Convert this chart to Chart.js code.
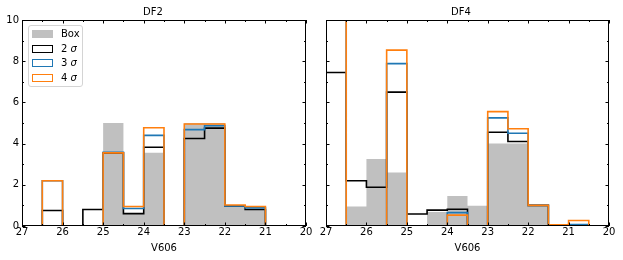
<!DOCTYPE html>
<html>
<head>
<meta charset="utf-8">
<title>DF2 / DF4 V606</title>
<script src="https://cdn.jsdelivr.net/npm/chart.js@4.4.1/dist/chart.umd.min.js"></script>
<style>
  body { margin: 0; background: #fff; font-family: "DejaVu Sans", sans-serif; }
  #wrap { position: relative; width: 623px; height: 260px; }
  #left { position: absolute; left: 0; top: 0; }
  #right { position: absolute; left: 313px; top: 0; }
  .legend {
    position: absolute; left: 28px; top: 25px; width: 55px; height: 62px;
    box-sizing: border-box; border: 1px solid #d4d4d4; border-radius: 3px;
    background: rgba(255,255,255,0.8);
  }
  .legend .sw { position: absolute; left: 3px; width: 21px; height: 8px; box-sizing: border-box; }
  .legend .lb { position: absolute; left: 32px; font-size: 10px; line-height: 12px; color: #000; }
</style>
</head>
<body>
<div id="wrap">
  <canvas id="left" width="313" height="260"></canvas>
  <canvas id="right" width="310" height="260"></canvas>
  <div class="legend">
    <div class="sw" style="top:3.5px;background:#c0c0c0"></div><div class="lb" style="top:1.5px">Box</div>
    <div class="sw" style="top:18.5px;border:1.5px solid #000"></div><div class="lb" style="top:16.5px">2 <i>σ</i></div>
    <div class="sw" style="top:33px;border:1.5px solid #1f77b4"></div><div class="lb" style="top:31px">3 <i>σ</i></div>
    <div class="sw" style="top:48px;border:1.5px solid #ff7f0e"></div><div class="lb" style="top:46px">4 <i>σ</i></div>
  </div>
</div>
<script>
// bin edges (V606 magnitudes, bright end on the right)
const edges = [27, 26.5, 26, 25.5, 25, 24.5, 24, 23.5, 23, 22.5, 22, 21.5, 21, 20.5, 20];
const xTicks = [27, 26, 25, 24, 23, 22, 21, 20];
const xMinor = [26.5, 25.5, 24.5, 23.5, 22.5, 21.5, 20.5];
const yTicks = [0, 2, 4, 6, 8, 10];
const yMinor = [1, 3, 5, 7, 9];

// DF2 counts per bin
const df2Box = [0, 0, 0, 0, 5.0, 0.6, 3.55, 0, 5.0, 5.0, 1.0, 0.8, 0, 0];
const df2S2  = [0, 0.75, 0, 0.8, 3.55, 0.6, 3.82, 0, 4.25, 4.75, 0.97, 0.8, 0, 0];
const df2S3  = [0, 2.2, 0, 0, 3.58, 0.85, 4.4, 0, 4.68, 4.87, 0.97, 0.88, 0, 0];
const df2S4  = [0, 2.2, 0, 0, 3.55, 0.95, 4.77, 0, 4.95, 4.95, 1.02, 0.95, 0, 0];

// DF4 counts per bin
const df4Box = [0, 0.95, 3.25, 2.6, 0, 0.68, 1.46, 0.98, 4.0, 4.0, 1.0, 0, 0, 0];
const df4S2  = [7.45, 2.2, 1.88, 6.5, 0.58, 0.77, 0.81, 0, 4.55, 4.1, 1.0, 0.05, 0.03, 0];
const df4S3  = [11, 0, 0, 7.88, 0, 0, 0.65, 0, 5.25, 4.5, 1.0, 0.05, 0.07, 0];
const df4S4  = [12, 0, 0, 8.54, 0, 0, 0.53, 0, 5.55, 4.72, 1.0, 0.06, 0.27, 0];

Chart.defaults.font.family = "'DejaVu Sans', sans-serif";
Chart.defaults.font.size = 10;
Chart.defaults.color = '#000';

// outline of a step histogram: start and end on the baseline
function stepPoints(values) {
    const pts = [{x: edges[0], y: 0}];
    values.forEach((v, i) => {
        pts.push({x: edges[i], y: v});
        pts.push({x: edges[i + 1], y: v});
    });
    pts.push({x: edges[edges.length - 1], y: 0});
    return pts;
}

// inward major/minor ticks on all four sides + frame
const frameTicks = {
    id: 'frameTicks',
    afterDraw(chart) {
        const {ctx, chartArea: a, scales: {x, y}} = chart;
        ctx.save();
        ctx.strokeStyle = '#000';
        ctx.lineWidth = 1;
        ctx.beginPath();
        const xt = (vals, len) => vals.forEach(v => {
            const px = Math.round(x.getPixelForValue(v)) + 0.5;
            ctx.moveTo(px, a.bottom); ctx.lineTo(px, a.bottom - len);
            ctx.moveTo(px, a.top); ctx.lineTo(px, a.top + len);
        });
        const yt = (vals, len) => vals.forEach(v => {
            const py = Math.round(y.getPixelForValue(v)) + 0.5;
            ctx.moveTo(a.left, py); ctx.lineTo(a.left + len, py);
            ctx.moveTo(a.right, py); ctx.lineTo(a.right - len, py);
        });
        xt(xTicks, 3.5); xt(xMinor, 2);
        yt(yTicks, 3.5); yt(yMinor, 2);
        ctx.stroke();
        ctx.strokeRect(a.left + 0.5, a.top + 0.5, a.right - a.left - 1, a.bottom - a.top - 1);
        ctx.restore();
    }
};

function makeChart(id, title, box, s2, s3, s4, showY, pad) {
    const line = (label, vals, color, order) => ({
        label: label, data: stepPoints(vals),
        borderColor: color, borderWidth: 1.6, pointRadius: 0,
        fill: false, order: order
    });
    return new Chart(document.getElementById(id), {
        type: 'line',
        data: {
            datasets: [
                {label: 'Box', data: stepPoints(box), borderColor: 'transparent',
                 borderWidth: 0, backgroundColor: '#c0c0c0', fill: 'origin', pointRadius: 0, order: 4},
                line('2 σ', s2, '#000000', 3),
                line('3 σ', s3, '#1f77b4', 2),
                line('4 σ', s4, '#ff7f0e', 1)
            ]
        },
        options: {
            responsive: false,
            animation: false,
            devicePixelRatio: 1,
            layout: { padding: pad },
            plugins: {
                legend: { display: false },
                tooltip: { enabled: false },
                title: { display: true, text: title, font: { size: 10, weight: 'normal' },
                         color: '#000', padding: { top: 6, bottom: 2 } }
            },
            scales: {
                x: {
                    type: 'linear', min: 20, max: 27, reverse: true,
                    grid: { display: false, drawTicks: false },
                    border: { display: false },
                    afterBuildTicks: s => { s.ticks = xTicks.map(v => ({value: v})); },
                    ticks: { padding: 0, color: '#000', maxRotation: 0, autoSkip: false },
                    title: { display: true, text: 'V606', color: '#000', padding: 0 },
                    afterFit: s => { s.height = 28; }
                },
                y: {
                    min: 0, max: 10, display: true,
                    grid: { display: false, drawTicks: false },
                    border: { display: false },
                    afterBuildTicks: s => { s.ticks = yTicks.map(v => ({value: v})); },
                    ticks: { display: showY, padding: 3, color: '#000', autoSkip: false },
                    afterFit: s => { s.width = showY ? 22 : 13; }
                }
            }
        },
        plugins: [frameTicks]
    });
}

makeChart('left', 'DF2', df2Box, df2S2, df2S3, df2S4, true, { left: 0, right: 7, top: 0, bottom: 6 });
makeChart('right', 'DF4', df4Box, df4S2, df4S3, df4S4, false, { left: 0, right: 14, top: 0, bottom: 6 });
</script>
</body>
</html>
